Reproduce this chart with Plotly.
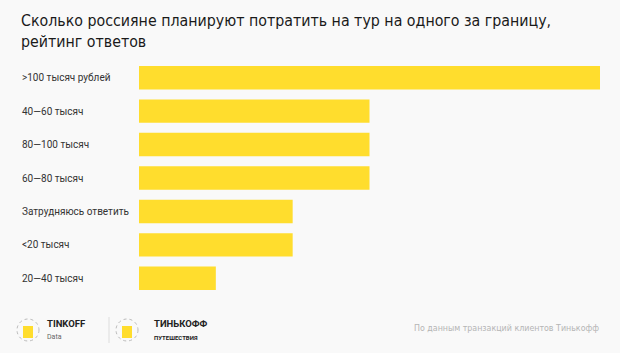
import plotly.graph_objects as go

categories = [">100 тысяч рублей", "40—60 тысяч", "80—100 тысяч", "60—80 тысяч",
              "Затрудняюсь ответить", "<20 тысяч", "20—40 тысяч"]
values = [30, 15, 15, 15, 10, 10, 5]

title_text = "Сколько россияне планируют потратить на тур на одного за границу,<br>рейтинг ответов"
source_text = "По данным транзакций клиентов Тинькофф"

W, H = 620, 353
L, R, T, B = 139, 20, 61, 58
pw = W - L - R
COND = "DejaVu Sans Condensed, Roboto Condensed, Liberation Sans Narrow, Roboto, sans-serif"

fig = go.Figure(go.Bar(
    x=values, y=categories, orientation="h",
    marker=dict(color="#FFDD2D", line=dict(width=0)),
    width=0.7, hoverinfo="skip",
))

fig.update_layout(
    width=W, height=H,
    margin=dict(l=L, r=R, t=T, b=B),
    paper_bgcolor="#F9F9F9", plot_bgcolor="#F9F9F9",
    showlegend=False,
    xaxis=dict(range=[0, 30], visible=False, fixedrange=True),
    yaxis=dict(autorange="reversed", showticklabels=False, showgrid=False,
               zeroline=False, fixedrange=True),
    font=dict(family="Roboto", color="#333333"),
)

def px(xp):
    return (xp - L) / pw

def py(yp):
    return (H - B - yp) / (H - T - B)

ann = []
for c in categories:
    ann.append(dict(text=c, x=px(20), xref="paper", y=c, yref="y",
                    xanchor="left", yanchor="middle", showarrow=False,
                    font=dict(size=10, color="#333333", family="Roboto")))

ann.append(dict(text=title_text, x=px(19), y=py(9), xref="paper", yref="paper",
                xanchor="left", yanchor="top", showarrow=False, align="left",
                font=dict(size=15.8, color="#1a1a1a", family=COND)))

ann.append(dict(text=source_text, x=px(601), y=py(328), xref="paper", yref="paper",
                xanchor="right", yanchor="middle", showarrow=False,
                font=dict(size=8.8, color="#B5B5B5", family=COND)))

# Logo texts
ann.append(dict(text="<b>TINKOFF</b>", x=px(45), y=py(323), xref="paper", yref="paper",
                xanchor="left", yanchor="middle", showarrow=False,
                font=dict(size=9.5, color="#222222", family="Roboto")))
ann.append(dict(text="Data", x=px(45), y=py(337), xref="paper", yref="paper",
                xanchor="left", yanchor="middle", showarrow=False,
                font=dict(size=7, color="#666666", family="Roboto")))
ann.append(dict(text="<b>ТИНЬКОФФ</b>", x=px(152), y=py(323), xref="paper", yref="paper",
                xanchor="left", yanchor="middle", showarrow=False,
                font=dict(size=9.5, color="#222222", family="Roboto")))
ann.append(dict(text="<b>ПУТЕШЕСТВИЯ</b>", x=px(152), y=py(337), xref="paper", yref="paper",
                xanchor="left", yanchor="middle", showarrow=False,
                font=dict(size=6, color="#222222", family="Roboto")))

shapes = []
for cx in (28, 127):
    shapes.append(dict(type="circle", xref="paper", yref="paper",
                       x0=px(cx - 11), x1=px(cx + 11), y0=py(341), y1=py(319),
                       line=dict(color="#BBBBBB", width=1, dash="dot"), fillcolor="rgba(0,0,0,0)"))
    shapes.append(dict(type="rect", xref="paper", yref="paper",
                       x0=px(cx - 5), x1=px(cx + 5), y0=py(338), y1=py(326),
                       line=dict(width=0), fillcolor="#FFDD2D"))
shapes.append(dict(type="line", xref="paper", yref="paper",
                   x0=px(109), x1=px(109), y0=py(343), y1=py(317),
                   line=dict(color="#DDDDDD", width=1)))

fig.update_layout(annotations=ann, shapes=shapes)
fig.write_html("out.html")
